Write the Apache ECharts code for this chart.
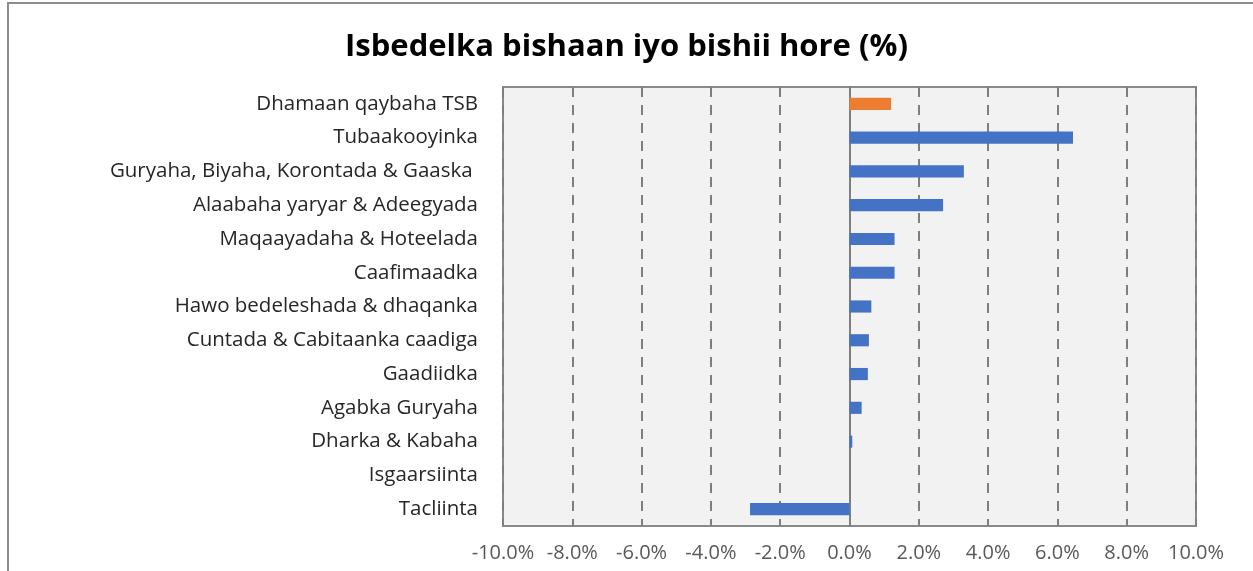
<!DOCTYPE html>
<html><head><meta charset="utf-8">
<script src="https://cdn.jsdelivr.net/npm/echarts@6/dist/echarts.min.js"></script>
<style>html,body{margin:0;padding:0;background:#fff}#c{width:1253px;height:571px}</style>
</head><body><div id="c"></div>
<script>
const categories = ["Dhamaan qaybaha TSB","Tubaakooyinka","Guryaha, Biyaha, Korontada & Gaaska ","Alaabaha yaryar & Adeegyada","Maqaayadaha & Hoteelada","Caafimaadka","Hawo bedeleshada & dhaqanka","Cuntada & Cabitaanka caadiga","Gaadiidka","Agabka Guryaha","Dharka & Kabaha","Isgaarsiinta","Tacliinta"];
const changePct = [1.2, 6.45, 3.3, 2.7, 1.3, 1.3, 0.63, 0.56, 0.53, 0.35, 0.08, 0, -2.87];
const xTicks = [-10,-8,-6,-4,-2,0,2,4,6,8,10];
const titleText = "Isbedelka bishaan iyo bishii hore (%)";

const chart = echarts.init(document.getElementById('c'));
chart.setOption({
  animation:false,
  title:{text:titleText,left:'center',top:27,textStyle:{fontFamily:'Open Sans',fontWeight:'bold',fontSize:31,color:'#000'}},
  graphic:[{type:'rect',shape:{x:8,y:3,width:1400,height:700},style:{fill:'none',stroke:'#8c8c8c',lineWidth:2},silent:true}],
  grid:{left:503,right:57,top:87,bottom:45,show:true,backgroundColor:'#F2F2F2',borderColor:'#8a8a8a',borderWidth:2},
  xAxis:{type:'value',min:xTicks[0],max:xTicks[xTicks.length-1],interval:2,
    axisLine:{show:false},axisTick:{show:false},
    axisLabel:{formatter:v=>v.toFixed(1)+'%',fontFamily:'Open Sans',fontSize:20,color:'#595959',margin:17},
    splitLine:{show:true,lineStyle:{type:[10,8],color:'#7f7f7f',width:2}}},
  yAxis:{type:'category',data:categories,inverse:true,
    axisLine:{show:true,onZero:true,lineStyle:{color:'#7f7f7f',width:2}},axisTick:{show:false},
    axisLabel:{fontFamily:'Open Sans',fontSize:20.5,color:'#262626',margin:25}},
  series:[{type:'bar',data:changePct,barWidth:'36%',
    itemStyle:{color:p=>p.dataIndex===0?'#ED7D31':'#4472C4'}}]
});
</script></body></html>
